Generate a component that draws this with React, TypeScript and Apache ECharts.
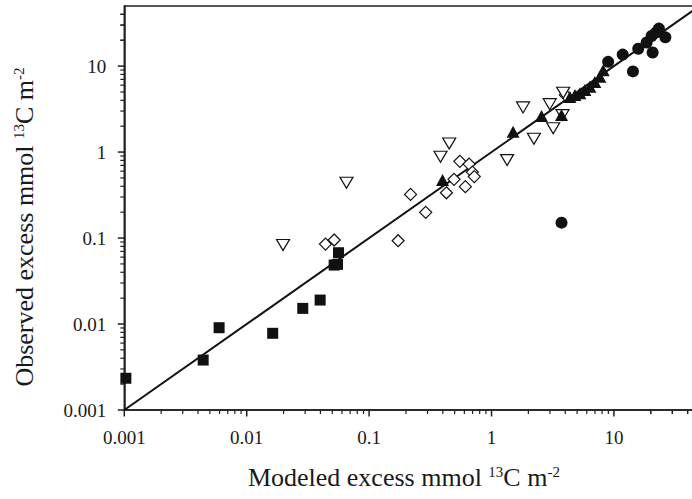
import React, { useEffect, useRef } from "react";
import * as echarts from "echarts";

const decadeValues = [0.001, 0.01, 0.1, 1, 10];
const tickLabels = ["0.001", "0.01", "0.1", "1", "10"];
const minorMultipliers = [2, 3, 4, 5, 6, 7, 8, 9];
const axisMin = 0.001;
const axisMax = 50;

const oneToOne: [number, number][] = [
  [0.001, 0.001],
  [50, 50],
];

// filled squares
const squares: [number, number][] = [
  [0.00103, 0.00234],
  [0.00441, 0.00381],
  [0.00595, 0.00906],
  [0.0163, 0.0078],
  [0.0287, 0.0152],
  [0.0398, 0.019],
  [0.0518, 0.0485],
  [0.0552, 0.0494],
  [0.0562, 0.0675],
];

// open diamonds
const diamonds: [number, number][] = [
  [0.044, 0.0851],
  [0.0518, 0.0948],
  [0.1726, 0.0931],
  [0.218, 0.322],
  [0.29, 0.199],
  [0.428, 0.336],
  [0.494, 0.482],
  [0.551, 0.78],
  [0.611, 0.396],
  [0.656, 0.725],
  [0.697, 0.585],
  [0.723, 0.519],
  [4.01, 4.6],
];

// open downward triangles
const openTriangles: [number, number][] = [
  [0.0198, 0.083],
  [0.0653, 0.44],
  [0.383, 0.882],
  [0.451, 1.26],
  [1.34, 0.807],
  [1.81, 3.31],
  [2.22, 1.43],
  [2.99, 3.61],
  [3.19, 1.89],
  [3.85, 4.9],
  [3.8, 2.69],
];

// filled upward triangles
const filledTriangles: [number, number][] = [
  [0.398, 0.472],
  [1.5, 1.72],
  [2.56, 2.62],
  [3.73, 2.69],
  [4.37, 4.36],
  [4.8, 4.6],
  [5.27, 4.82],
  [5.79, 5.26],
  [6.36, 5.74],
  [6.98, 6.52],
  [7.67, 7.51],
  [8.17, 8.97],
];

// filled circles
const circles: [number, number][] = [
  [8.97, 11.2],
  [11.8, 13.6],
  [14.3, 8.67],
  [15.8, 15.9],
  [18.5, 18.8],
  [20.7, 14.4],
  [20.3, 22.4],
  [22.0, 24.5],
  [23.3, 27.3],
  [26.3, 21.6],
  [3.73, 0.151],
];

const minorTicks: number[] = [];
decadeValues.forEach((d) => {
  minorMultipliers.forEach((m) => {
    const v = +(d * m).toPrecision(3);
    if (v < axisMax) minorTicks.push(v);
  });
});
minorTicks.push(20, 30, 40);

const FONT = "'Liberation Serif', 'Times New Roman', serif";
const AXIS_COLOR = "#1e1e1e";
const TEXT_COLOR = "#1a1a1a";
const CHART_W = 712;
const CHART_H = 499;

function fmt(v: number): string {
  const i = decadeValues.findIndex((d) => Math.abs(Math.log10(v / d)) < 0.01);
  return i >= 0 ? tickLabels[i] : "";
}

function axisOption(isX: boolean, name: string) {
  return {
    type: "log",
    logBase: 10,
    min: axisMin,
    max: axisMax,
    position: isX ? "bottom" : "left",
    name,
    nameLocation: "middle",
    nameGap: isX ? 54 : 86,
    nameRotate: isX ? 0 : 90,
    nameTextStyle: {
      fontFamily: FONT,
      fontSize: 26,
      color: TEXT_COLOR,
      padding: isX ? [0, 16, 0, 0] : [0, 38, 0, 0],
      rich: {
        a: { fontFamily: FONT, fontSize: 26, color: TEXT_COLOR },
        sup: {
          fontFamily: FONT,
          fontSize: 15,
          color: TEXT_COLOR,
          verticalAlign: "top",
          padding: [0, 0, 12, 0],
        },
      },
    },
    axisLine: { show: true, lineStyle: { color: AXIS_COLOR, width: 1.5 } },
    axisTick: { show: false },
    axisLabel: {
      show: true,
      margin: 18,
      fontFamily: FONT,
      fontSize: 19,
      color: TEXT_COLOR,
      formatter: fmt,
      showMaxLabel: false,
    },
    splitLine: { show: false },
    minorTick: { show: false },
  };
}

// tick marks placed through the axis scales
function tickSeries(isX: boolean, values: number[], len: number, width: number) {
  return {
    type: "custom",
    data: values.map((v) => (isX ? [v, axisMin] : [axisMin, v])),
    silent: true,
    clip: false,
    z: 5,
    renderItem: (_params: any, api: any) => {
      const p = api.coord([api.value(0), api.value(1)]);
      const shape = isX
        ? { x1: p[0], y1: p[1], x2: p[0], y2: p[1] + len }
        : { x1: p[0], y1: p[1], x2: p[0] - len, y2: p[1] };
      return {
        type: "line",
        shape,
        style: { stroke: AXIS_COLOR, lineWidth: width },
      };
    },
  };
}

export default function App() {
  const ref = useRef<HTMLDivElement>(null);

  useEffect(() => {
    if (!ref.current) return;
    const chart = echarts.init(ref.current, undefined, { renderer: "svg" });
    const solid = { color: "#111111", opacity: 1 };
    const open = { color: "#ffffff", borderColor: "#111111", borderWidth: 1.2, opacity: 1 };
    chart.setOption({
      animation: false,
      backgroundColor: "#ffffff",
      grid: {
        left: 124.3,
        top: 6,
        width: 575.2,
        height: 404,
        show: true,
        borderColor: AXIS_COLOR,
        borderWidth: 1.5,
        backgroundColor: "transparent",
      },
      xAxis: axisOption(true, "{a|Modeled excess mmol }{sup|13}{a|C m}{sup|-2}"),
      yAxis: axisOption(false, "{a|Observed excess mmol }{sup|13}{a|C m}{sup|-2}"),
      series: [
        tickSeries(true, decadeValues, 6.5, 1.5),
        tickSeries(true, minorTicks, 4, 1.2),
        tickSeries(false, decadeValues, 6.5, 1.5),
        tickSeries(false, minorTicks, 4, 1.2),
        {
          type: "line",
          data: oneToOne,
          symbol: "none",
          lineStyle: { color: "#111111", width: 2 },
          z: 1,
        },
        { type: "scatter", data: squares, symbol: "rect", symbolSize: 11, itemStyle: solid, z: 3 },
        { type: "scatter", data: diamonds, symbol: "diamond", symbolSize: 12, itemStyle: open, z: 3 },
        {
          type: "scatter",
          data: openTriangles,
          symbol: "triangle",
          symbolRotate: 180,
          symbolSize: [13, 11],
          itemStyle: open,
          z: 3,
        },
        { type: "scatter", data: filledTriangles, symbol: "triangle", symbolSize: [13, 12], itemStyle: solid, z: 4 },
        { type: "scatter", data: circles, symbol: "circle", symbolSize: 12, itemStyle: solid, z: 4 },
      ],
    });
    return () => chart.dispose();
  }, []);

  return (
    <div
      style={{
        position: "fixed",
        left: 0,
        top: 0,
        width: 692,
        height: 499,
        overflow: "hidden",
        background: "#fff",
      }}
    >
      <div ref={ref} style={{ width: CHART_W, height: CHART_H }} />
    </div>
  );
}
